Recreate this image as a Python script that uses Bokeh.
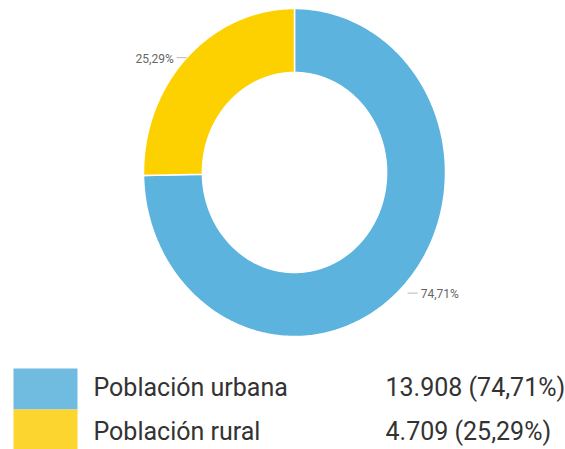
import numpy as np
from bokeh.plotting import figure
from bokeh.models import Range1d
from bokeh.core.properties import value
from bokeh.embed import file_html
from bokeh.resources import INLINE

# ---- data ----
categories = ["Población urbana", "Población rural"]
values = [13908, 4709]
pct_labels = ["74,71%", "25,29%"]
legend_values = ["13.908 (74,71%)", "4.709 (25,29%)"]
colors = ["#5CB3DE", "#FDD000"]
swatch_colors = ["#70BBE0", "#FCD62E"]

# ---- layout (pixel coordinates) ----
W, H = 565, 449
p = figure(width=W, height=H, output_backend="svg", toolbar_location=None,
           x_range=Range1d(0, W), y_range=Range1d(H, 0),
           min_border=0, outline_line_color=None, background_fill_color="white")
p.axis.visible = False
p.grid.visible = False

cx, cy = 294, 172
rx, ry = 151, 164
inner = 0.61

total = float(sum(values))
fracs = [v / total for v in values]

# slices: start at top, go clockwise
start = np.pi / 2
xs, ys, mids = [], [], []
for f in fracs:
    end = start - f * 2 * np.pi
    t = np.linspace(start, end, 240)
    ox = cx + rx * np.cos(t)
    oy = cy - ry * np.sin(t)
    ix = cx + rx * inner * np.cos(t[::-1])
    iy = cy - ry * inner * np.sin(t[::-1])
    xs.append(list(np.concatenate([ox, ix])))
    ys.append(list(np.concatenate([oy, iy])))
    mids.append((start + end) / 2)
    start = end

p.patches(xs=xs, ys=ys, fill_color=colors, line_color="white", line_width=1.5)

# percentage labels with short leaders
lab_r = [1.05, 1.0]
for lab, m, rf in zip(pct_labels, mids, lab_r):
    ax = cx + rx * rf * np.cos(m)
    ay = cy - ry * rf * np.sin(m)
    d = 1 if np.cos(m) > 0 else -1
    p.line([ax, ax + d * 10], [ay, ay], line_color="#b8b8b8", line_width=1)
    p.text(x=[ax + d * 13], y=[ay + 1], text=[lab],
           text_align="left" if d > 0 else "right", text_baseline="middle",
           text_font=value("Roboto"), text_font_size="12px", text_color="#666666")

# legend
p.quad(left=[13, 13], right=[77, 77], top=[368, 409], bottom=[409, 449],
       fill_color=swatch_colors, line_color=None)
ly = [386.5, 430.5]
p.text(x=[93, 93], y=ly, text=categories, text_align="left", text_baseline="middle",
       text_font=value("Roboto"), text_font_size="25px", text_color="#333333")
p.text(x=[385, 385], y=ly, text=legend_values, text_align="left", text_baseline="middle",
       text_font=value("Roboto"), text_font_size="25px", text_color="#333333")

open("out.html", "w").write(file_html(p, INLINE))
